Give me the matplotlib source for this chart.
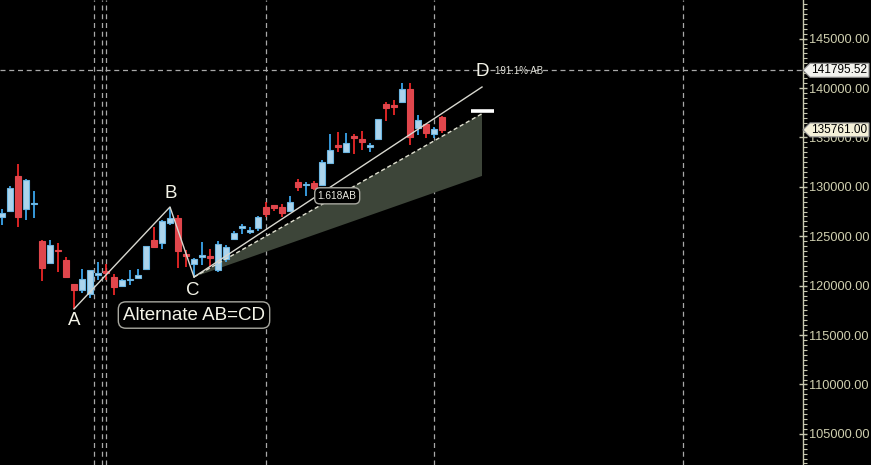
import matplotlib
matplotlib.use("Agg")
import matplotlib.pyplot as plt
import numpy as np
from matplotlib.patches import Polygon
from matplotlib.transforms import IdentityTransform
from matplotlib.ticker import MultipleLocator, FixedLocator

# ---------------- data ----------------
opens = [126950, 127550, 131100, 127750, 128260, 124520, 122290, 123610, 122590, 120170,
         119560, 119150, 121080, 121480, 120870, 119960, 120570, 120770, 121680, 124620,
         124310, 126340, 126840, 123200, 122190, 122900, 122900, 121580, 122700, 124720,
         125830, 125430, 125830, 127960, 128160, 127960, 127550, 130490, 130180, 130390,
         130180, 132410, 134230, 133520, 135140, 134840, 134030, 134840, 138380, 138280,
         138580, 139900, 135950, 136360, 135340, 137070]
highs = [127750, 130080, 132300, 130790, 129580, 124600, 124620, 124310, 122900, 120200,
         121680, 121600, 122390, 122190, 121180, 120670, 121580, 121680, 124050, 125930,
         126640, 127960, 127150, 123610, 122750, 124420, 123710, 124520, 124110, 125530,
         126240, 125930, 127050, 128460, 128200, 128260, 129070, 130790, 130490, 130590,
         132710, 135340, 135550, 135450, 135340, 135650, 134430, 136900, 138580, 138790,
         140510, 140510, 137270, 136400, 136050, 137170]
lows = [126140, 127450, 125930, 126640, 126840, 120470, 122200, 121380, 120800, 117640,
        119250, 118750, 120570, 120570, 119050, 119860, 120060, 120770, 121580, 123810,
        123710, 126140, 121780, 121880, 120870, 122090, 121880, 121380, 122390, 124620,
        125230, 125230, 125530, 126950, 127550, 126950, 127500, 129580, 129070, 129680,
        130150, 132310, 133520, 133420, 133320, 133730, 133520, 134800, 136660, 137270,
        138550, 134230, 135240, 134940, 134940, 135450]
closes = [127350, 129880, 126950, 130690, 128360, 121780, 124110, 123500, 120870, 119560,
          120670, 121580, 121280, 121280, 119860, 120570, 120670, 121080, 124010, 123910,
          126540, 126840, 123500, 123000, 122700, 123100, 122800, 124210, 123910, 125330,
          126030, 125530, 126950, 127250, 127860, 127350, 128460, 129980, 130290, 129880,
          132510, 133730, 134030, 134430, 134940, 134540, 134230, 136860, 137980, 138080,
          139900, 135040, 136760, 135450, 135850, 135761]

separators = [11.5, 12.5, 13.0, 33.0, 54.0, 85.1]
y_ticks = [105000, 110000, 115000, 120000, 125000, 130000, 135000, 140000, 145000]

pt_idx = {"A": 9, "B": 21, "C": 24, "D": 60}
pt_price = {"A": 117640, "B": 127960, "C": 120870, "D": 140100}
proj_100 = 131100     # 1.0 AB projection
proj_1618 = 137400    # 1.618 AB projection
ref_price = 141795.52
last_price = 135761.00

# ---------------- figure ----------------
W, H = 871, 465
fig = plt.figure(figsize=(W / 100, H / 100), dpi=100, facecolor="black")
ax = fig.add_axes([0, 0, 803 / W, 1], facecolor="black")
ax.set_xlim(-0.25, 100.125)
ax.set_ylim(101848, 148906)

for s in ["top", "left", "bottom"]:
    ax.spines[s].set_visible(False)
ax.spines["right"].set_color("#c8c8b0")
ax.spines["right"].set_linewidth(1)
ax.set_xticks([])
ax.yaxis.tick_right()
ax.yaxis.set_major_locator(FixedLocator(y_ticks))
ax.set_yticklabels([f"{v:.2f}" for v in y_ticks])
ax.yaxis.set_minor_locator(MultipleLocator(500))
ax.tick_params(axis="y", which="major", direction="inout", length=6, width=1,
               color="#c8c8b0", labelcolor="#d0d0b0", labelsize=9.2, pad=1)
ax.tick_params(axis="y", which="minor", direction="out", length=3, width=0.8,
               color="#c8c8b0")
for lab in ax.get_yticklabels():
    lab.set_fontfamily("Liberation Sans")

# separators
for xs in separators:
    ax.axvline(xs, color="#a8a8a8", lw=0.9, ls=(0, (4, 3)), zorder=1)
ax.axhline(ref_price, color="#a8a8a8", lw=0.9, ls=(0, (4, 3)), zorder=1)

# candles
idx = np.arange(len(opens))
o = np.array(opens); c = np.array(closes); h = np.array(highs); l = np.array(lows)
up = c >= o
bottoms = np.minimum(o, c)
heights = np.maximum(np.abs(c - o), 150)
ax.vlines(idx[up], l[up], h[up], color="#3fb2ff", lw=1.2, zorder=2)
ax.vlines(idx[~up], l[~up], h[~up], color="#ff2a2a", lw=1.2, zorder=2)
ax.bar(idx[up], heights[up], bottom=bottoms[up], width=0.82, color="#acd4ec",
       edgecolor="#6cb6e2", lw=0.8, zorder=3)
ax.bar(idx[~up], heights[~up], bottom=bottoms[~up], width=0.82, color="#e0464c",
       edgecolor="#e0464c", lw=0.8, zorder=3)

# projection area
cx, cy = pt_idx["C"], pt_price["C"]
dx = pt_idx["D"]
ax.add_patch(Polygon([[cx, cy], [dx, proj_1618], [dx, proj_100]], closed=True,
                     facecolor="#3d4539", edgecolor="none", zorder=1.5))
ax.plot([cx, dx], [cy, proj_1618], color="#e0e0d0", lw=1, ls=(0, (3, 2)), zorder=4)
ax.hlines(proj_1618 + 250, dx - 1.4, dx + 1.5, color="white", lw=2.6, zorder=4)

# pattern lines
lc = "#d8d8d0"
ax.plot([pt_idx["A"], pt_idx["B"], pt_idx["C"]],
        [pt_price["A"], pt_price["B"], pt_price["C"]], color=lc, lw=1, zorder=4)
ax.plot([cx, dx], [cy, pt_price["D"]], color=lc, lw=1, zorder=4)

lab_kw = dict(textcoords="offset pixels", ha="center", va="center", color="#f4f4e8",
              fontsize=13.5, family="Liberation Sans", zorder=6)
ax.annotate("A", (pt_idx["A"], pt_price["A"]), xytext=(0, -12), **lab_kw)
ax.annotate("B", (pt_idx["B"], pt_price["B"]), xytext=(1, 13), **lab_kw)
ax.annotate("C", (pt_idx["C"], pt_price["C"]), xytext=(-1, -13), **lab_kw)
ax.annotate("D", (pt_idx["D"], pt_price["D"]), xytext=(0, 16), **lab_kw)
ax.annotate("191.1% AB", (pt_idx["D"], pt_price["D"]), xytext=(13, 16),
            textcoords="offset pixels", ha="left", va="center", color="#e0e0d8",
            fontsize=7, family="Liberation Sans", zorder=6)

box = dict(boxstyle="round,pad=0.25,rounding_size=0.4", fc="black", ec="#a8a8a0", lw=1)
ax.annotate("Alternate AB=CD", (cx, cy), xytext=(0, -38), textcoords="offset pixels",
            ha="center", va="center", color="#f4f4e8", fontsize=13.5,
            family="Liberation Sans", bbox=box, zorder=6)
lx = 41.9
ly = np.interp(lx, [cx, dx], [cy, proj_1618])
box2 = dict(boxstyle="round,pad=0.3,rounding_size=0.5", fc="black", ec="#a8a8a0", lw=1)
ax.text(lx, ly, "1.618AB", ha="center", va="center", color="#e8e8e0", fontsize=7.3,
        family="Liberation Sans", bbox=box2, zorder=6)

# price tags on axis
fig.canvas.draw()
def tag(price, text, face):
    yd = ax.transData.transform((0, price))[1]
    verts = [(803, yd), (810, yd + 7), (869, yd + 7), (869, yd - 7), (810, yd - 7)]
    fig.add_artist(Polygon(verts, closed=True, facecolor=face, edgecolor="#909090",
                           lw=0.8, transform=IdentityTransform(), zorder=10))
    fig.text(839.5 / W, yd / H, text, ha="center", va="center", color="black",
             fontsize=8.5, family="Liberation Sans", zorder=11)

tag(ref_price, f"{ref_price:.2f}", "#f2f2ee")
tag(last_price, f"{last_price:.2f}", "#f4f0d8")

fig.savefig("out.png", dpi=100, facecolor="black")
